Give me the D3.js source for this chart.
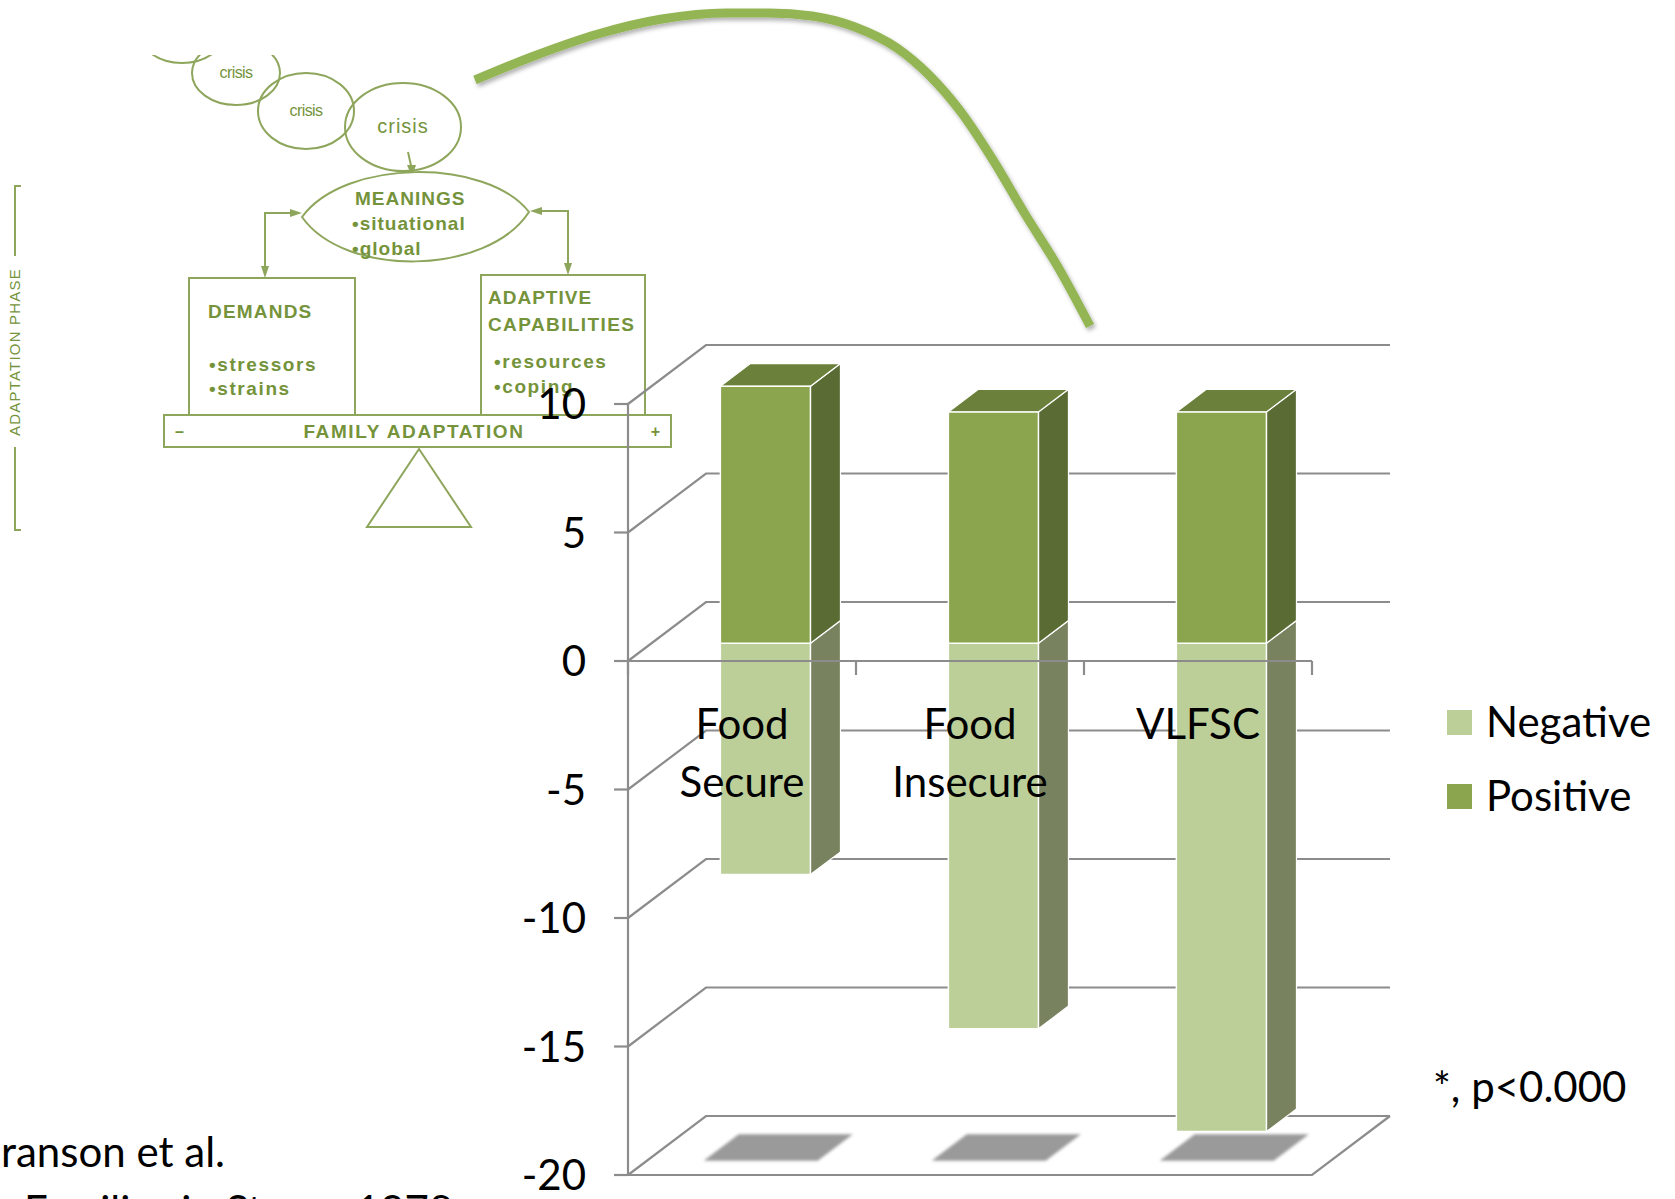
<!DOCTYPE html>
<html>
<head>
<meta charset="utf-8">
<script src="https://cdn.jsdelivr.net/npm/d3@7"></script>
<style>
  html, body { margin: 0; padding: 0; background: #ffffff; }
  svg { display: block; }
</style>
</head>
<body>
<script>
// ---- data ----
const categories = ["Food Secure", "Food Insecure", "VLFSC"];
const categoryLines = [["Food", "Secure"], ["Food", "Insecure"], ["VLFSC"]];
const positiveValues = [10, 9, 9];
const negativeValues = [-9, -15, -19];
const seriesNames = ["Negative", "Positive"];
const yTicks = [10, 5, 0, -5, -10, -15, -20];
const footnote = "*, p<0.000";
const sourceLines = ["ranson et al.", "Families in Stress, 1978"];

// ---- page ----
const W = 1675, H = 1199;
const svg = d3.select("body").append("svg").attr("width", W).attr("height", H);
const defs = svg.append("defs");

defs.append("filter").attr("id", "curveShadow")
  .attr("x", "-10%").attr("y", "-10%").attr("width", "120%").attr("height", "120%")
  .append("feDropShadow").attr("dx", 2).attr("dy", 3).attr("stdDeviation", 2)
  .attr("flood-color", "#000").attr("flood-opacity", 0.3);
defs.append("filter").attr("id", "soft")
  .append("feGaussianBlur").attr("stdDeviation", 1.8);
defs.append("clipPath").attr("id", "diagramClip")
  .append("rect").attr("x", 0).attr("y", 55).attr("width", 700).attr("height", 520);

// ---- family adaptation diagram ----
const dg = svg.append("g").attr("clip-path", "url(#diagramClip)");
const G_LINE = "#8ea65c", G_TEXT = "#74933b";
const stroke = sel => sel.attr("fill", "none").attr("stroke", G_LINE).attr("stroke-width", 2);

const crises = [
  { cx: 182, cy: 30, rx: 44, ry: 33, label: "", fs: 0 },
  { cx: 236, cy: 73, rx: 44, ry: 32, label: "crisis", fs: 16 },
  { cx: 306, cy: 111, rx: 48, ry: 38, label: "crisis", fs: 16 },
  { cx: 403, cy: 127, rx: 58, ry: 44, label: "crisis", fs: 20 }
];
crises.forEach(c => {
  dg.append("ellipse").attr("cx", c.cx).attr("cy", c.cy).attr("rx", c.rx).attr("ry", c.ry)
    .attr("fill", "#fff").call(stroke);
  if (c.label) dg.append("text").attr("x", c.cx).attr("y", c.cy + c.fs * 0.3)
    .attr("text-anchor", "middle").attr("font-family", "Liberation Sans, Arial, sans-serif")
    .attr("font-size", c.fs).attr("fill", G_TEXT).attr("letter-spacing", c.fs > 16 ? 1 : -0.6)
    .text(c.label);
});

// crisis -> meanings arrow
dg.append("line").attr("x1", 408).attr("y1", 152).attr("x2", 412).attr("y2", 170).call(stroke);
const arrowHead = pts => dg.append("polygon").attr("points", pts.map(p => p.join(",")).join(" "))
  .attr("fill", G_LINE);
arrowHead([[412, 177], [407, 165], [416, 165]]);

// meanings lens
dg.append("path").attr("d", "M302,217 C345,158 487,158 529,212 C487,276 345,278 302,217 Z")
  .attr("fill", "#fff").attr("stroke", G_LINE).attr("stroke-width", 2);

const dtext = (x, y, s, size, anchor, spacing) => dg.append("text").attr("x", x).attr("y", y)
  .attr("text-anchor", anchor || "start")
  .attr("font-family", "Liberation Sans, Arial, sans-serif").attr("font-weight", "bold")
  .attr("font-size", size || 19).attr("letter-spacing", spacing == null ? 1 : spacing)
  .attr("fill", G_TEXT).text(s);

dtext(355, 205, "MEANINGS");
dtext(352, 230, "•situational");
dtext(352, 255, "•global");

// connectors between meanings and the two boxes
dg.append("path").attr("d", "M265,275 L265,213 L296,213").call(stroke);
arrowHead([[302, 213], [290, 209], [290, 217]]);
arrowHead([[265, 278], [261, 266], [269, 266]]);
dg.append("path").attr("d", "M568,272 L568,211 L536,211").call(stroke);
arrowHead([[530, 211], [542, 207], [542, 215]]);
arrowHead([[568, 275], [564, 263], [572, 263]]);

// demands / capabilities boxes
dg.append("rect").attr("x", 189).attr("y", 278).attr("width", 166).attr("height", 139).call(stroke);
dtext(208, 318, "DEMANDS", 19, "start", 1.2);
dtext(209, 371, "•stressors", 19, "start", 1.6);
dtext(209, 395, "•strains", 19, "start", 1.6);

dg.append("rect").attr("x", 481).attr("y", 275).attr("width", 164).attr("height", 140).call(stroke);
dtext(488, 304, "ADAPTIVE");
dtext(488, 331, "CAPABILITIES", 19, "start", 1.4);
dtext(494, 368, "•resources", 19, "start", 1.6);
dtext(494, 393, "•coping", 19, "start", 1.6);

// balance beam and fulcrum
dg.append("rect").attr("x", 164).attr("y", 415).attr("width", 507).attr("height", 32)
  .call(stroke).attr("fill", "#fff");
dtext(414, 438, "FAMILY  ADAPTATION", 19, "middle", 1.6);
dtext(180, 437, "–", 16, "middle");
dtext(656, 437, "+", 16, "middle");
dg.append("path").attr("d", "M419,449 L367,527 L471,527 Z").call(stroke);

// phase bracket
dg.append("path").attr("d", "M21,186 L15,186 L15,256").call(stroke);
dg.append("path").attr("d", "M15,447 L15,530 L21,530").call(stroke);
dg.append("text").attr("transform", "translate(20,352) rotate(-90)")
  .attr("text-anchor", "middle").attr("font-family", "Liberation Sans, Arial, sans-serif")
  .attr("font-size", 15).attr("letter-spacing", 1.2).attr("fill", G_TEXT).text("ADAPTATION PHASE");

// connecting curve from the diagram to the chart
const curvePts = [[475, 80], [534, 56], [598, 34], [662, 19], [726, 13], [769, 13], [812, 16],
  [855, 27], [897, 48], [929, 75], [961, 112], [993, 160], [1025, 214], [1058, 267], [1090, 326]];
svg.append("path").attr("d", d3.line().curve(d3.curveMonotoneX)(curvePts))
  .attr("fill", "none").attr("stroke", "#93b553").attr("stroke-width", 9)
  .attr("filter", "url(#curveShadow)");

// ---- 3D stacked column chart ----
const y = d3.scaleLinear().domain([-20, 10]).range([1175, 404]);
const x = d3.scaleBand().domain(categories).range([628, 1312]).padding(0);
const DX = 78, DY = -59;          // projected depth of the plot box
const Z0 = 0.30, Z1 = 0.685;      // depth span of the columns
const barW = x.bandwidth() * 0.395;
const x0 = x.range()[0], x1 = x.range()[1];
const GRID = "#8c8c8c";

const chart = svg.append("g");

// side-wall and back-wall gridlines
chart.selectAll("path.grid").data(yTicks).join("path").attr("class", "grid")
  .attr("d", t => `M${x0},${y(t)} L${x0 + DX},${y(t) + DY} L${x1 + DX},${y(t) + DY}`)
  .attr("fill", "none").attr("stroke", GRID).attr("stroke-width", 2.2);

// floor outline
const yMin = d3.min(yTicks);
chart.append("path")
  .attr("d", `M${x0},${y(yMin)} L${x1},${y(yMin)} L${x1 + DX},${y(yMin) + DY}`)
  .attr("fill", "none").attr("stroke", GRID).attr("stroke-width", 2.2);

// column geometry
const bars = categories.map((c, i) => {
  const xl = x(c) + (x.bandwidth() - barW) / 2 + Z0 * DX;
  return { c, i, xl, xr: xl + barW, pos: positiveValues[i], neg: negativeValues[i] };
});
const fy = v => y(v) + Z0 * DY;           // front face of a column
const sdx = (Z1 - Z0) * DX, sdy = (Z1 - Z0) * DY;
const poly = pts => "M" + pts.map(p => p.join(",")).join("L") + "Z";

// floor shadows, slightly wider than the column footprint
const SZ0 = 0.24, SZ1 = 0.69, SPAD = 12;
chart.selectAll("path.shadow").data(bars).join("path").attr("class", "shadow")
  .attr("d", b => {
    const xa = b.xl - Z0 * DX - SPAD, xb = b.xr - Z0 * DX + SPAD, yf = y(yMin);
    return poly([[xa + SZ0 * DX, yf + SZ0 * DY], [xb + SZ0 * DX, yf + SZ0 * DY],
                 [xb + SZ1 * DX, yf + SZ1 * DY], [xa + SZ1 * DX, yf + SZ1 * DY]]);
  })
  .attr("fill", "#9a9a9a").attr("filter", "url(#soft)");

const colors = {
  Negative: { front: "#bccf99", side: "#78825f", top: "#a9bd86" },
  Positive: { front: "#8ba54f", side: "#5a6c33", top: "#6b803a" }
};

bars.forEach(b => {
  const g = chart.append("g");
  // negative segment
  g.append("path").attr("d", poly([[b.xr, fy(0)], [b.xr + sdx, fy(0) + sdy], [b.xr + sdx, fy(b.neg) + sdy], [b.xr, fy(b.neg)]]))
    .attr("fill", colors.Negative.side).attr("stroke", "#fff").attr("stroke-width", 1.2);
  g.append("path").attr("d", poly([[b.xl, fy(0)], [b.xr, fy(0)], [b.xr, fy(b.neg)], [b.xl, fy(b.neg)]]))
    .attr("fill", colors.Negative.front).attr("stroke", "#fff").attr("stroke-width", 1.5);
  // positive segment
  g.append("path").attr("d", poly([[b.xr, fy(0)], [b.xr + sdx, fy(0) + sdy], [b.xr + sdx, fy(b.pos) + sdy], [b.xr, fy(b.pos)]]))
    .attr("fill", colors.Positive.side).attr("stroke", "#fff").attr("stroke-width", 1.2);
  g.append("path").attr("d", poly([[b.xl, fy(b.pos)], [b.xr, fy(b.pos)], [b.xr + sdx, fy(b.pos) + sdy], [b.xl + sdx, fy(b.pos) + sdy]]))
    .attr("fill", colors.Positive.top).attr("stroke", "#fff").attr("stroke-width", 1.2);
  g.append("path").attr("d", poly([[b.xl, fy(b.pos)], [b.xr, fy(b.pos)], [b.xr, fy(0)], [b.xl, fy(0)]]))
    .attr("fill", colors.Positive.front).attr("stroke", "#fff").attr("stroke-width", 1.5);
});

// value axis
chart.append("line").attr("x1", x0).attr("x2", x0).attr("y1", y(10)).attr("y2", y(-20))
  .attr("stroke", GRID).attr("stroke-width", 2.2);
chart.selectAll("line.ytick").data(yTicks).join("line").attr("class", "ytick")
  .attr("x1", x0 - 14).attr("x2", x0).attr("y1", d => y(d)).attr("y2", d => y(d))
  .attr("stroke", GRID).attr("stroke-width", 2.2);

// category axis along zero
chart.append("line").attr("x1", x0).attr("x2", x1).attr("y1", y(0)).attr("y2", y(0))
  .attr("stroke", GRID).attr("stroke-width", 2.2);
const catTicks = categories.map(c => x(c)).concat([x1]);
chart.selectAll("line.xtick").data(catTicks).join("line").attr("class", "xtick")
  .attr("x1", d => d).attr("x2", d => d).attr("y1", y(0)).attr("y2", y(0) + 14)
  .attr("stroke", GRID).attr("stroke-width", 2.2);

const FONT = "Lato, 'Open Sans', sans-serif";
const FS = 42;

// tick labels
chart.selectAll("text.ylab").data(yTicks).join("text").attr("class", "ylab")
  .attr("x", x0 - 42).attr("y", d => y(d) + 15)
  .attr("text-anchor", "end").attr("font-family", FONT).attr("font-size", FS).attr("fill", "#000")
  .text(d => d);

// category labels
categories.forEach((c, i) => {
  const t = chart.append("text").attr("text-anchor", "middle")
    .attr("font-family", FONT).attr("font-size", FS).attr("fill", "#000");
  categoryLines[i].forEach((line, k) => {
    t.append("tspan").attr("x", x(c) + x.bandwidth() / 2).attr("y", 739 + k * 58).text(line);
  });
});

// legend
const legend = svg.append("g").attr("transform", "translate(1447,710)");
seriesNames.forEach((s, i) => {
  legend.append("rect").attr("x", 0).attr("y", i * 74).attr("width", 25).attr("height", 25)
    .attr("fill", colors[s].front);
  legend.append("text").attr("x", 39).attr("y", i * 74 + 27)
    .attr("font-family", FONT).attr("font-size", FS).attr("fill", "#000").text(s);
});

svg.append("text").attr("x", 1433).attr("y", 1102)
  .attr("font-family", FONT).attr("font-size", FS).attr("fill", "#000").text(footnote);

// source note
svg.append("text").attr("x", 1).attr("y", 1167)
  .attr("font-family", FONT).attr("font-size", FS).attr("fill", "#000").text(sourceLines[0]);
svg.append("text").attr("x", 24).attr("y", 1226)
  .attr("font-family", FONT).attr("font-size", FS).attr("fill", "#000").text(sourceLines[1]);
</script>
</body>
</html>
